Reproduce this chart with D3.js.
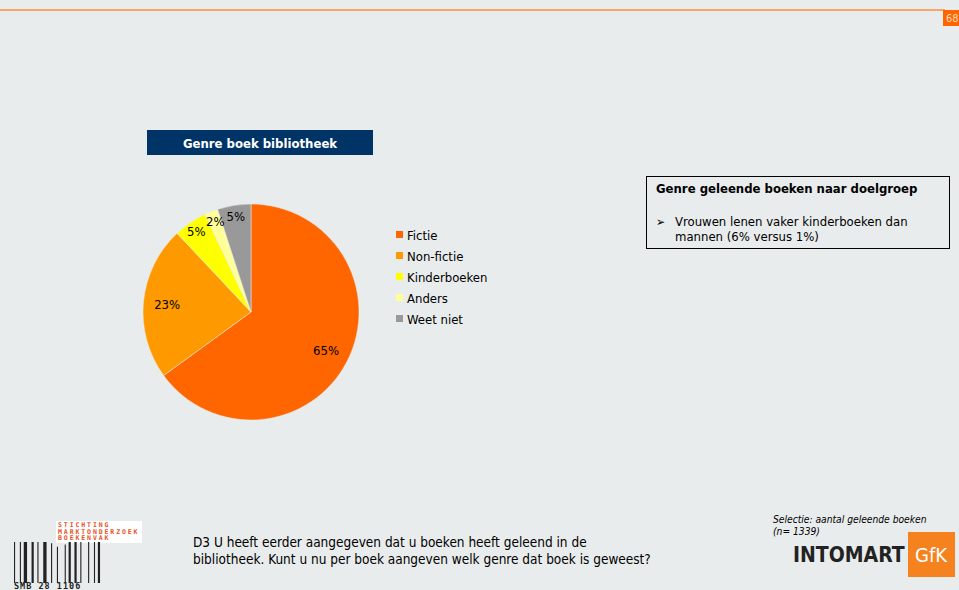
<!DOCTYPE html>
<html>
<head>
<meta charset="utf-8">
<script src="https://cdn.jsdelivr.net/npm/d3@7"></script>
<style>
  html, body { margin: 0; padding: 0; background: #e9ecec; }
  svg text { font-family: "DejaVu Sans Condensed", "DejaVu Sans", sans-serif; }
</style>
</head>
<body>
<div id="chart"></div>
<script>
// Gegevens
const genres = ['Fictie', 'Non-fictie', 'Kinderboeken', 'Anders', 'Weet niet'];
const percentages = [65, 23, 5, 2, 5];
const kleuren = ['#FF6600', '#FF9900', '#FFFF00', '#FFFF99', '#999999'];

const titel = 'Genre boek bibliotheek';
const kaderTitel = 'Genre geleende boeken naar doelgroep';
const kaderTekst = ['Vrouwen lenen vaker kinderboeken dan', 'mannen (6% versus 1%)'];
const vraagTekst = ['D3 U heeft eerder aangegeven dat u boeken heeft geleend in de',
  'bibliotheek. Kunt u nu per boek aangeven welk genre dat boek is geweest?'];
const selectieTekst = ['Selectie: aantal geleende boeken', '(n= 1339)'];
const logoTekst = ['STICHTING', 'MARKTONDERZOEK', 'BOEKENVAK'];
const barcodeBreedtes = [1,2,1,1,3,1,2,1,1,2,3,1,1,2,1,3,1,1,2,1,2,1,1,3,1,2,1,1,2,1];

const data = genres.map((g, i) => ({ genre: g, waarde: percentages[i] }));

const width = 959, height = 590;

const svg = d3.select('#chart')
  .append('svg')
    .attr('width', width)
    .attr('height', height);

svg.append('rect').attr('width', width).attr('height', height).attr('fill', '#e9ecec');

// Bovenlijn + paginanummer
svg.append('line')
  .attr('x1', 0).attr('x2', 945).attr('y1', 10).attr('y2', 10)
  .attr('stroke', '#ff8c40').attr('stroke-width', 1.5);
svg.append('rect').attr('x', 943).attr('y', 10).attr('width', 16).attr('height', 16).attr('fill', '#ff6600');
svg.append('text').attr('x', 946).attr('y', 22).attr('fill', '#ffd9bf')
  .style('font-size', '11px').text('68');

// Titelbalk
svg.append('rect').attr('x', 147).attr('y', 130).attr('width', 226).attr('height', 25).attr('fill', '#003366');
svg.append('text').attr('x', 260).attr('y', 147.5).attr('text-anchor', 'middle')
  .attr('fill', '#fff').style('font-weight', 'bold').style('font-size', '13px').text(titel);

// Taart
const cx = 251, cy = 312, r = 108;
const pie = d3.pie().value(d => d.waarde).sort(null);
const arc = d3.arc().innerRadius(0).outerRadius(r);
const color = d3.scaleOrdinal().domain(genres).range(kleuren);

const g = svg.append('g').attr('transform', 'translate(' + cx + ',' + cy + ')');
const arcs = pie(data);

g.selectAll('path')
  .data(arcs)
  .enter()
  .append('path')
    .attr('d', arc)
    .attr('fill', d => color(d.data.genre))
    .attr('stroke', '#e9ecec')
    .attr('stroke-width', 0.5);

g.selectAll('text.lbl')
  .data(arcs)
  .enter()
  .append('text')
    .attr('class', 'lbl')
    .attr('transform', d => {
      const lr = d.data.waarde < 10 ? r * 0.9 : r * 0.78;
      const a = (d.startAngle + d.endAngle) / 2;
      return 'translate(' + (Math.sin(a) * lr) + ',' + (-Math.cos(a) * lr) + ')';
    })
    .attr('text-anchor', 'middle')
    .attr('dy', '0.35em')
    .style('font-size', '13px')
    .attr('fill', '#000')
    .text(d => d.data.waarde + '%');

// Legenda
const leg = svg.append('g').attr('transform', 'translate(396,235)');
const items = leg.selectAll('g')
  .data(genres)
  .enter()
  .append('g')
    .attr('transform', (d, i) => 'translate(0,' + (i * 21) + ')');
items.append('rect').attr('x', 0).attr('y', -4).attr('width', 7).attr('height', 7).attr('fill', d => color(d));
items.append('text').attr('x', 11).attr('y', 0).attr('dy', '0.35em')
  .style('font-size', '13px').attr('fill', '#000').text(d => d);

// Kader rechts
svg.append('rect').attr('x', 646.5).attr('y', 176.5).attr('width', 303).attr('height', 72)
  .attr('fill', 'none').attr('stroke', '#000').attr('stroke-width', 1);
svg.append('text').attr('x', 656).attr('y', 193).style('font-weight', 'bold').style('font-size', '13px')
  .attr('fill', '#000').text(kaderTitel);
svg.append('text').attr('x', 656).attr('y', 226).style('font-size', '12px').attr('fill', '#000').text('➢');
svg.selectAll('text.kader')
  .data(kaderTekst)
  .enter()
  .append('text')
    .attr('class', 'kader')
    .attr('x', 675)
    .attr('y', (d, i) => 226 + i * 15)
    .style('font-size', '13px')
    .attr('fill', '#000')
    .text(d => d);

// Vraag
svg.selectAll('text.vraag')
  .data(vraagTekst)
  .enter()
  .append('text')
    .attr('class', 'vraag')
    .attr('x', 193)
    .attr('y', (d, i) => 547 + i * 17)
    .style('font-size', '13.5px')
    .attr('fill', '#000')
    .text(d => d);

// Selectie
svg.selectAll('text.sel')
  .data(selectieTekst)
  .enter()
  .append('text')
    .attr('class', 'sel')
    .attr('x', 773)
    .attr('y', (d, i) => 523 + i * 12)
    .style('font-size', '10.2px')
    .style('font-style', 'italic')
    .attr('fill', '#000')
    .text(d => d);

// Intomart GfK logo
svg.append('text').attr('x', 793).attr('y', 562).style('font-size', '21px').style('font-weight', 'bold')
  .attr('fill', '#222').text('INTOMART');
svg.append('rect').attr('x', 908).attr('y', 532).attr('width', 47).attr('height', 45).attr('fill', '#f5821f');
svg.append('text').attr('x', 931).attr('y', 562).attr('text-anchor', 'middle').style('font-size', '20px')
  .attr('fill', '#fff').text('GfK');

// SMB logo
svg.append('rect').attr('x', 56).attr('y', 521).attr('width', 86).attr('height', 22).attr('fill', '#fff');
svg.selectAll('text.logo')
  .data(logoTekst)
  .enter()
  .append('text')
    .attr('class', 'logo')
    .attr('x', 58)
    .attr('y', (d, i) => 527 + i * 6.5)
    .style('font-size', '6.5px')
    .style('letter-spacing', '1.9px')
    .style('font-family', 'DejaVu Sans Mono')
    .style('font-weight', 'bold')
    .attr('fill', '#e8501e')
    .text(d => d);

let bx = 14;
const bars = svg.append('g');
barcodeBreedtes.forEach((w, i) => {
  if (i % 2 === 0) {
    const top = (bx > 50 && bx < 68) ? 548 - Math.abs(bx - 59) * 0.6 : 542;
    bars.append('rect').attr('x', bx).attr('y', top).attr('width', w * 1.1).attr('height', 583 - top).attr('fill', '#222');
  }
  bx += w * 1.95;
});
svg.append('text').attr('x', 14).attr('y', 589).style('font-size', '8.5px')
  .style('font-family', 'DejaVu Sans Mono').style('font-weight', 'bold').style('letter-spacing', '1px')
  .attr('fill', '#222').text('SMB 28  1106');
</script>
</body>
</html>
